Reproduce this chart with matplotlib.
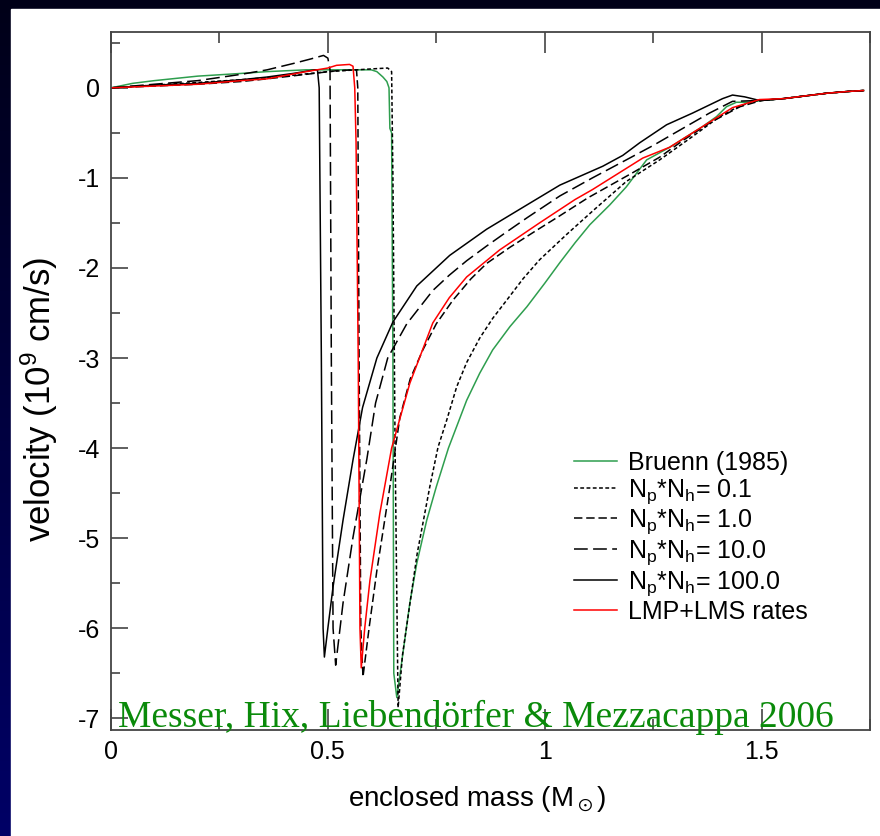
#!/usr/bin/env python3
import numpy as np
import matplotlib
matplotlib.use("Agg")
import matplotlib.pyplot as plt
from matplotlib.colors import LinearSegmentedColormap
from matplotlib.patches import Rectangle
from matplotlib.ticker import MultipleLocator

plt.rcParams['font.family'] = ['Liberation Sans', 'DejaVu Sans']
plt.rcParams['axes.unicode_minus'] = False
plt.rcParams['mathtext.default'] = 'regular'

# --- data (enclosed mass in M_sun, velocity in 1e9 cm/s)
tail_x = [1.55, 1.6, 1.65, 1.7, 1.735]
tail_y = [-0.12, -0.09, -0.06, -0.04, -0.03]

bruenn_x = [0, 0.05, 0.1, 0.2, 0.3, 0.36, 0.45, 0.55, 0.6, 0.613, 0.627, 0.636, 0.641,
            0.643, 0.647, 0.65, 0.652, 0.659, 0.673, 0.689, 0.705, 0.728, 0.75, 0.778,
            0.82, 0.85, 0.88, 0.92, 0.959, 1.0, 1.035, 1.07, 1.104, 1.15, 1.188, 1.235,
            1.288, 1.364, 1.396, 1.419, 1.442, 1.472, 1.5] + tail_x
bruenn_y = [0, 0.05, 0.08, 0.13, 0.16, 0.18, 0.2, 0.2, 0.2, 0.18, 0.12, 0.07, 0.0,
            -0.45, -0.5, -3.0, -6.5, -6.77, -6.28, -5.72, -5.28, -4.8, -4.43, -4.0,
            -3.47, -3.17, -2.91, -2.65, -2.43, -2.17, -1.94, -1.72, -1.52, -1.3, -1.1,
            -0.8, -0.66, -0.43, -0.32, -0.21, -0.16, -0.16, -0.14] + tail_y

np01_x = [0, 0.1, 0.2, 0.3, 0.4, 0.5, 0.6, 0.638, 0.647, 0.65, 0.655, 0.662, 0.672,
          0.69, 0.706, 0.735, 0.754, 0.774, 0.797, 0.82, 0.85, 0.88, 0.912, 0.95,
          0.988, 1.05, 1.11, 1.188, 1.265, 1.341, 1.403, 1.442, 1.48, 1.5] + tail_x
np01_y = [0, 0.03, 0.06, 0.09, 0.13, 0.18, 0.21, 0.22, 0.18, -1.0, -4.0, -6.88, -6.3,
          -5.7, -5.17, -4.43, -3.99, -3.69, -3.32, -3.05, -2.78, -2.56, -2.36, -2.12,
          -1.91, -1.63, -1.37, -1.04, -0.8, -0.54, -0.32, -0.22, -0.15, -0.14] + tail_y

np1_x = [0, 0.1, 0.2, 0.3, 0.36, 0.45, 0.52, 0.56, 0.566, 0.569, 0.572, 0.576, 0.581,
         0.595, 0.613, 0.643, 0.666, 0.69, 0.719, 0.75, 0.788, 0.83, 0.866, 0.92,
         0.972, 1.035, 1.1, 1.2, 1.265, 1.32, 1.38, 1.45, 1.5] + tail_x
np1_y = [0, 0.02, 0.04, 0.07, 0.1, 0.15, 0.19, 0.2, 0.2, 0.0, -3.0, -6.0, -6.54,
         -6.0, -5.36, -4.43, -3.66, -3.23, -2.91, -2.62, -2.36, -2.12, -1.95, -1.77,
         -1.61, -1.42, -1.22, -0.95, -0.77, -0.58, -0.39, -0.21, -0.14] + tail_y

np10_x = [0, 0.1, 0.2, 0.3, 0.36, 0.42, 0.46, 0.49, 0.5, 0.505, 0.508, 0.512, 0.518,
          0.535, 0.558, 0.59, 0.61, 0.638, 0.682, 0.742, 0.78, 0.82, 0.865, 0.912,
          0.96, 1.035, 1.11, 1.188, 1.25, 1.304, 1.38, 1.433, 1.5] + tail_x
np10_y = [0, 0.04, 0.08, 0.15, 0.2, 0.27, 0.32, 0.36, 0.33, 0.2, -3.0, -6.0, -6.41,
          -5.72, -4.99, -4.12, -3.5, -3.0, -2.62, -2.25, -2.08, -1.92, -1.76, -1.6,
          -1.44, -1.2, -1.0, -0.8, -0.64, -0.49, -0.28, -0.15, -0.14] + tail_y

np100_x = [0, 0.1, 0.2, 0.3, 0.36, 0.42, 0.47, 0.476, 0.48, 0.485, 0.489, 0.492, 0.5,
           0.512, 0.535, 0.558, 0.58, 0.613, 0.65, 0.705, 0.781, 0.866, 0.959, 1.035,
           1.134, 1.18, 1.219, 1.281, 1.341, 1.41, 1.433, 1.461, 1.495] + tail_x
np100_y = [0, 0.03, 0.05, 0.09, 0.12, 0.16, 0.2, 0.2, 0.0, -3.0, -6.0, -6.32, -6.0,
           -5.54, -4.8, -4.13, -3.55, -3.0, -2.6, -2.2, -1.86, -1.57, -1.3, -1.08,
           -0.87, -0.75, -0.61, -0.41, -0.28, -0.12, -0.08, -0.1, -0.14] + tail_y

lmp_x = [0, 0.1, 0.2, 0.3, 0.36, 0.45, 0.5, 0.52, 0.55, 0.558, 0.562, 0.565, 0.57,
         0.574, 0.577, 0.585, 0.597, 0.62, 0.647, 0.689, 0.742, 0.78, 0.82, 0.896,
         0.988, 1.07, 1.11, 1.226, 1.288, 1.364, 1.433, 1.495] + tail_x
lmp_y = [0, 0.02, 0.04, 0.08, 0.1, 0.18, 0.22, 0.25, 0.26, 0.24, 0.0, -0.6, -3.0,
         -6.0, -6.44, -6.0, -5.47, -4.72, -4.0, -3.28, -2.61, -2.33, -2.1, -1.8,
         -1.5, -1.24, -1.13, -0.78, -0.66, -0.43, -0.22, -0.13] + tail_y

labels = ['Bruenn (1985)',
          r'N$_\mathregular{p}$*N$_\mathregular{h}$= 0.1',
          r'N$_\mathregular{p}$*N$_\mathregular{h}$= 1.0',
          r'N$_\mathregular{p}$*N$_\mathregular{h}$= 10.0',
          r'N$_\mathregular{p}$*N$_\mathregular{h}$= 100.0',
          'LMP+LMS rates']

fig = plt.figure(figsize=(8.8, 8.36), dpi=100)

# slide background: dark blue gradient with the white panel on top
bg = fig.add_axes([0, 0, 1, 1], zorder=-5)
cmap = LinearSegmentedColormap.from_list('slide', ['#000066', '#000018'])
bg.imshow(np.linspace(0, 1, 256).reshape(-1, 1), cmap=cmap, origin='lower',
          extent=[0, 1, 0, 1], aspect='auto')
bg.add_patch(Rectangle((11 / 880, 0), 1, 1 - 9 / 836, color='white'))
bg.set_xlim(0, 1)
bg.set_ylim(0, 1)
bg.axis('off')

ax = fig.add_axes([111 / 880, 106 / 836, 759 / 880, 698 / 836])
ax.patch.set_alpha(0)

ax.plot(bruenn_x, bruenn_y, color='#2e9e4e', lw=1.1, label=labels[0])
ax.plot(np01_x, np01_y, color='black', lw=1.1, dashes=(2.5, 1.6), label=labels[1])
ax.plot(np1_x, np1_y, color='black', lw=1.1, dashes=(5.5, 2.5), label=labels[2])
ax.plot(np10_x, np10_y, color='black', lw=1.1, dashes=(9, 3.5), label=labels[3])
ax.plot(np100_x, np100_y, color='black', lw=1.1, label=labels[4])
ax.plot(lmp_x, lmp_y, color='red', lw=1.1, label=labels[5])

ax.set_xlim(0, 1.75)
ax.set_ylim(-7.13, 0.62)
ax.xaxis.set_major_locator(MultipleLocator(0.5))
ax.xaxis.set_minor_locator(MultipleLocator(0.25))
ax.yaxis.set_major_locator(MultipleLocator(1))
ax.yaxis.set_minor_locator(MultipleLocator(0.5))
ax.set_xticks([0, 0.5, 1, 1.5])
ax.set_xticklabels(['0', '0.5', '1', '1.5'])
ax.tick_params(axis='x', which='both', direction='in', top=True, bottom=True,
               labelsize=18, pad=7, color='#444444')
ax.tick_params(axis='x', which='major', length=15, width=1.2)
ax.tick_params(axis='x', which='minor', length=8, width=1.2)
ax.tick_params(axis='y', which='both', direction='in', left=True, right=False,
               labelsize=18, pad=8, color='#444444')
ax.tick_params(axis='y', which='major', length=12, width=1.2)
ax.tick_params(axis='y', which='minor', length=6.5, width=1.2)
for s in ax.spines.values():
    s.set_color('#444444')
    s.set_linewidth(1.3)

ax.set_xlabel(r'enclosed mass (M$_\odot$)', fontsize=20)
ax.xaxis.set_label_coords(0.482, -0.078)
ax.set_ylabel(r'velocity (10$^\mathregular{9}$ cm/s)', fontsize=25)
ax.yaxis.set_label_coords(-0.067, 0.473)

ax.legend(loc='upper left', bbox_to_anchor=(574 / 880, 1 - 451 / 836),
          bbox_transform=fig.transFigure, frameon=False, fontsize=18,
          handlelength=1.7, handletextpad=0.45, labelspacing=0.08, borderpad=0,
          borderaxespad=0)

ax.text(118 / 880, 1 - 727 / 836, 'Messer, Hix, Liebendörfer & Mezzacappa 2006',
        transform=fig.transFigure, family='Liberation Serif', fontsize=27,
        color='#0a8a0a', ha='left', va='baseline')

fig.savefig('out.png', dpi=100)
